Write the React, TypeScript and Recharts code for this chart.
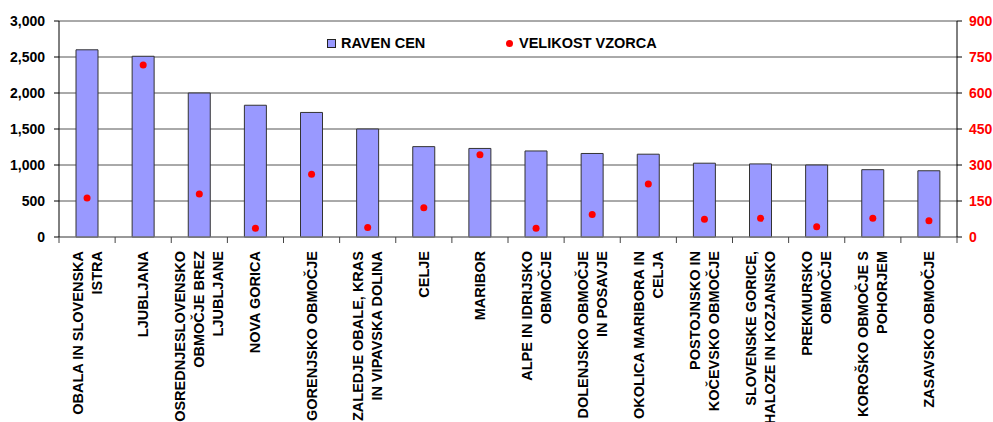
import { ComposedChart, Bar, Line, XAxis, YAxis, CartesianGrid } from 'recharts';

const categories = [
  'OBALA IN SLOVENSKA\nISTRA',
  'LJUBLJANA',
  'OSREDNJESLOVENSKO\nOBMOČJE BREZ\nLJUBLJANE',
  'NOVA GORICA',
  'GORENJSKO OBMOČJE',
  'ZALEDJE OBALE, KRAS\nIN VIPAVSKA DOLINA',
  'CELJE',
  'MARIBOR',
  'ALPE IN IDRIJSKO\nOBMOČJE',
  'DOLENJSKO OBMOČJE\nIN POSAVJE',
  'OKOLICA MARIBORA IN\nCELJA',
  'POSTOJNSKO IN\nKOČEVSKO OBMOČJE',
  'SLOVENSKE GORICE,\nHALOZE IN KOZJANSKO',
  'PREKMURSKO\nOBMOČJE',
  'KOROŠKO OBMOČJE S\nPOHORJEM',
  'ZASAVSKO OBMOČJE',
];
const ravenCen = [2600, 2510, 2000, 1830, 1730, 1500, 1255, 1230, 1195, 1160, 1150, 1025, 1015, 1000, 935, 920];
const velikostVzorca = [163, 717, 179, 36, 261, 40, 122, 343, 36, 94, 221, 74, 78, 43, 78, 68];
const leftTicks = [0, 500, 1000, 1500, 2000, 2500, 3000];
const rightTicks = [0, 150, 300, 450, 600, 750, 900];

const FONT = '"Liberation Sans", Arial, sans-serif';
const data = categories.map((name, i) => ({ name, raven: ravenCen[i], velikost: velikostVzorca[i] }));

// category label, rotated, plus the Excel-style tick marks between categories
function CatTick({ x, y, payload, index, width, visibleTicksCount }: any) {
  const lines = String(payload.value).split('\n');
  const n = lines.length;
  const half = payload.offset || width / visibleTicksCount / 2;
  const axisY = y - 14;
  return (
    <g>
      <line x1={x - half} x2={x - half} y1={axisY} y2={axisY + 6} stroke="#444" />
      {index === visibleTicksCount - 1 && (
        <line x1={x + half} x2={x + half} y1={axisY} y2={axisY + 6} stroke="#444" />
      )}
      <g transform={`translate(${x},${y})`}>
        <text transform="rotate(-90)" textAnchor="end" fontFamily={FONT} fontWeight="bold" fontSize={14.5} fill="#000">
          {lines.map((l, i) => (
            <tspan key={i} x={0} y={5 + (i - (n - 1) / 2) * 19}>{l}</tspan>
          ))}
        </text>
      </g>
    </g>
  );
}

export default function App() {
  const tickStyle = { fontFamily: FONT, fontWeight: 'bold', fontSize: 14, fill: '#000' };
  return (
    <div style={{ position: 'absolute', left: 0, top: 0, width: 993, height: 422, background: '#fff', fontFamily: FONT }}>
      <ComposedChart width={993} height={422} data={data} margin={{ top: 21, right: 0, bottom: 0, left: 0 }}>
        <CartesianGrid yAxisId="left" vertical={false} stroke="#555" />
        <XAxis dataKey="name" interval={0} height={185} axisLine={{ stroke: '#888' }} tickLine={false}
          tickSize={0} tickMargin={14} tick={<CatTick />} />
        <YAxis yAxisId="left" domain={[0, 3000]} ticks={leftTicks} width={59} tickSize={5} tickMargin={9}
          tickFormatter={(v) => Number(v).toLocaleString('en-US')} tick={tickStyle}
          axisLine={{ stroke: '#000' }} tickLine={{ stroke: '#000' }} />
        <YAxis yAxisId="right" orientation="right" domain={[0, 900]} ticks={rightTicks} width={36} tickSize={5} tickMargin={7}
          tick={{ ...tickStyle, fill: '#FF0000' }} axisLine={{ stroke: '#000' }} tickLine={{ stroke: '#000' }} />
        <Bar yAxisId="left" dataKey="raven" fill="#9999FF" stroke="#333" strokeWidth={1} barSize={22} isAnimationActive={false} />
        <Line yAxisId="right" dataKey="velikost" stroke="none" strokeWidth={0} activeDot={false}
          dot={{ r: 3.5, fill: '#FF0000', stroke: 'none' }} isAnimationActive={false} />
      </ComposedChart>
      <div style={{ position: 'absolute', left: 327, top: 39, width: 7, height: 7, background: '#9999FF', border: '1px solid #222' }} />
      <div style={{ position: 'absolute', left: 341, top: 34, fontSize: 14.5, fontWeight: 'bold', lineHeight: '18px', color: '#000', whiteSpace: 'nowrap' }}>RAVEN CEN</div>
      <div style={{ position: 'absolute', left: 506, top: 40, width: 7, height: 7, borderRadius: '50%', background: '#FF0000' }} />
      <div style={{ position: 'absolute', left: 519, top: 34, fontSize: 14.5, fontWeight: 'bold', lineHeight: '18px', color: '#000', whiteSpace: 'nowrap' }}>VELIKOST VZORCA</div>
    </div>
  );
}
